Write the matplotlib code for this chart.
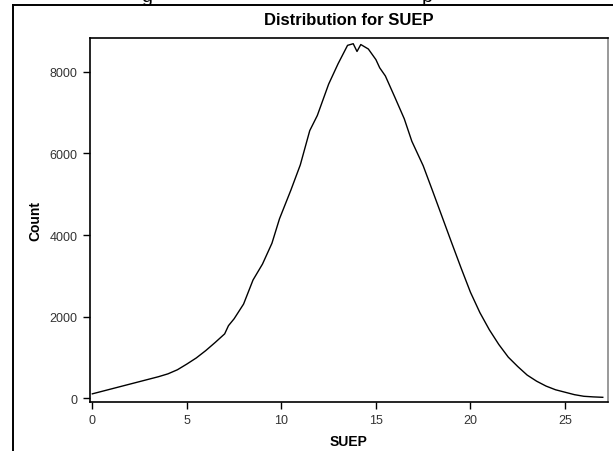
import matplotlib
matplotlib.use("Agg")
import matplotlib.pyplot as plt
from matplotlib.lines import Line2D

plt.rcParams["font.family"] = ["Liberation Sans", "DejaVu Sans"]

# frequency polygon
suep = [0, 0.5, 1, 1.5, 2, 2.5, 3, 3.5, 4, 4.5, 5, 5.5, 6, 6.5, 7, 7.2, 7.5, 8,
        8.5, 9, 9.5, 9.9, 10.5, 11, 11.5, 11.9, 12.5, 13, 13.5, 13.8, 14.0, 14.2,
        14.6, 15, 15.2, 15.5, 16, 16.5, 16.9, 17.5, 18, 18.5, 19, 19.5, 20, 20.5,
        21, 21.5, 22, 22.5, 23, 23.5, 24, 24.5, 25, 25.5, 26, 26.5, 27]
count = [110, 170, 230, 290, 350, 410, 470, 530, 600, 700, 840, 990, 1170, 1370,
         1580, 1780, 1950, 2310, 2900, 3290, 3800, 4400, 5100, 5720, 6560, 6930,
         7700, 8200, 8650, 8690, 8500, 8670, 8560, 8300, 8100, 7900, 7380, 6850,
         6300, 5700, 5080, 4450, 3820, 3200, 2600, 2100, 1680, 1320, 1010, 780,
         570, 420, 300, 210, 150, 90, 50, 35, 25]

x_ticks = [0, 5, 10, 15, 20, 25]
y_ticks = [0, 2000, 4000, 6000, 8000]

W, H = 613, 452
fig = plt.figure(figsize=(W / 100, H / 100), dpi=100)

# frame of the surrounding document
fig.add_artist(Line2D([13 / W, 13 / W], [0, 1 - 6 / H], color="black", lw=1.4))
fig.add_artist(Line2D([13 / W, 1], [1 - 6 / H, 1 - 6 / H], color="black", lw=1.4))
# descenders of the cut-off line above
fig.text(147 / W, 1 - 2 / H, "g", fontsize=14, va="baseline", ha="center")
fig.text(427 / W, 1 - 2 / H, "p", fontsize=14, va="baseline", ha="center")

left, right, top, bottom = 89.5, 607.5, 39, 403
ax = fig.add_axes([left / W, (H - bottom) / H, (right - left) / W, (bottom - top) / H])
ax.plot(suep, count, color="black", lw=1.0)

ax.set_xlim(-0.15, 27.25)
ax.set_ylim(-90, 8830)
ax.set_xticks(x_ticks)
ax.set_yticks(y_ticks)
ax.tick_params(labelsize=9, labelcolor="#333333", length=5, width=1, direction="out")
for side in ax.spines.values():
    side.set_linewidth(1.2)
ax.spines["right"].set_color("#888888")

ax.set_title("Distribution for SUEP", fontsize=12, fontweight="bold", pad=10)
ax.set_xlabel("SUEP", fontsize=10, fontweight="bold", labelpad=6)
ax.set_ylabel("Count", fontsize=10, fontweight="bold", labelpad=5)

fig.savefig("out.png", dpi=100)
